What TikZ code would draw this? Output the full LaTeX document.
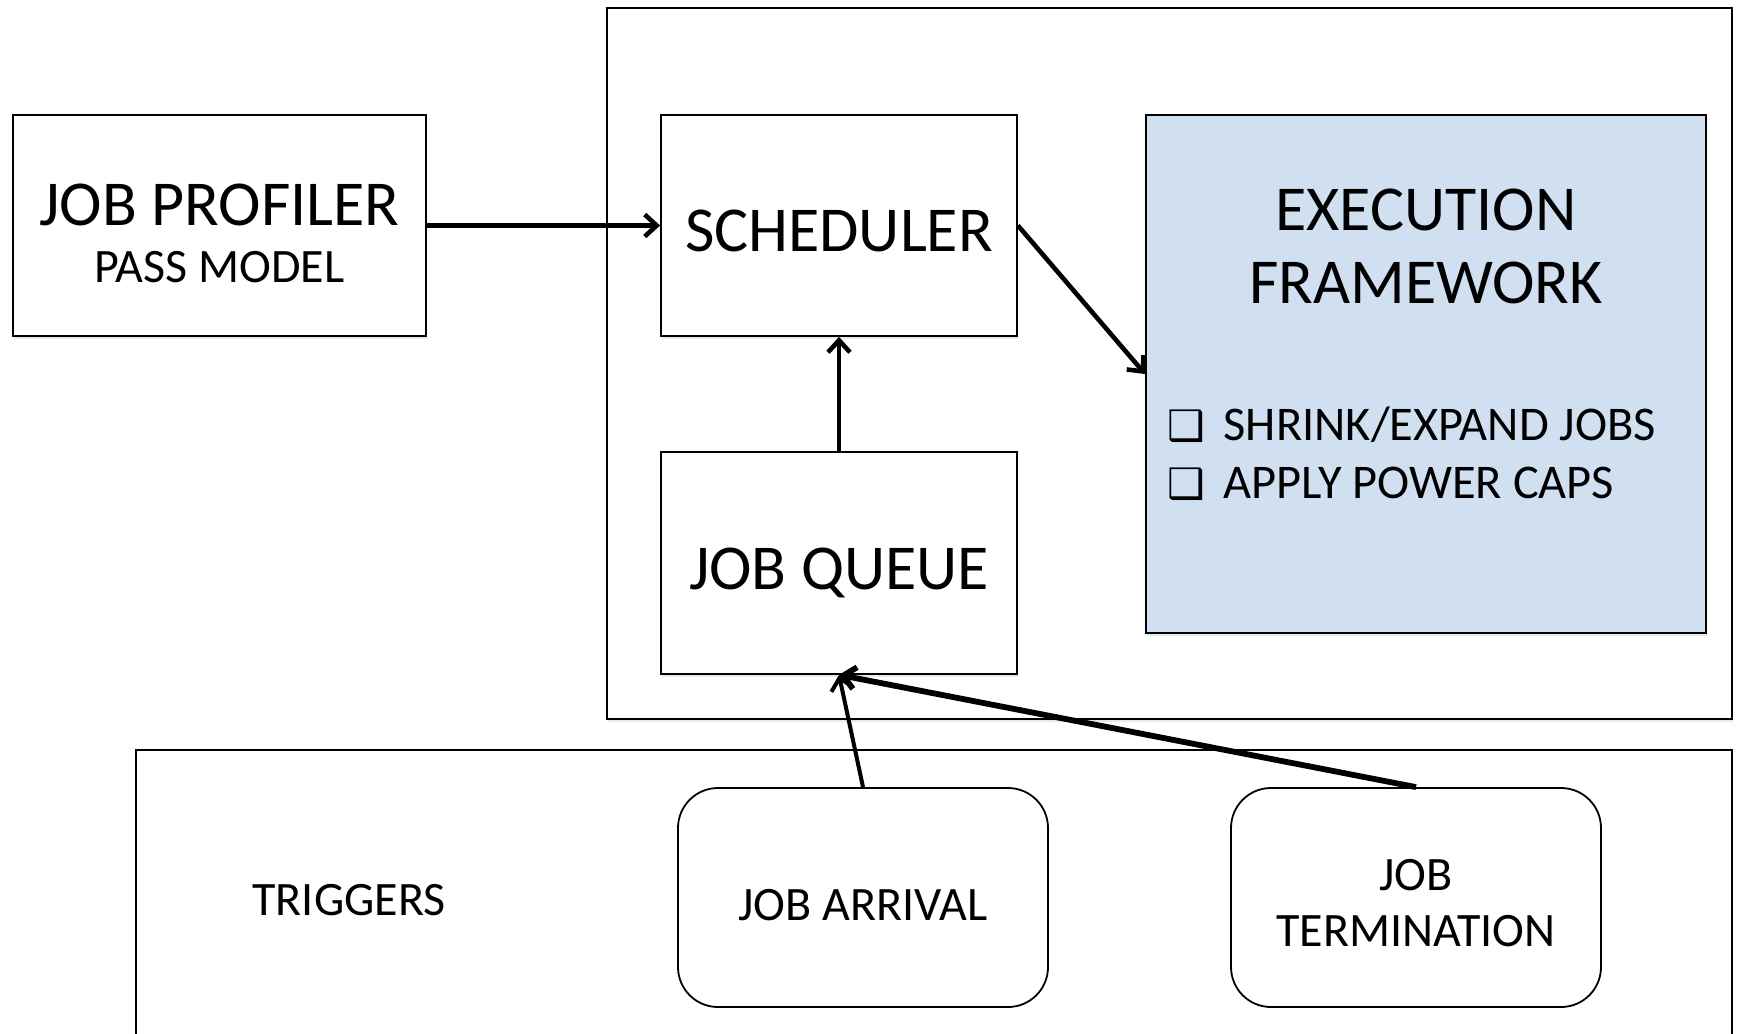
\documentclass[tikz,border=0pt]{standalone}
\usepackage{fontspec}
\setmainfont{Carlito}
\newfontfamily\dingfont{DejaVu Sans}
\usetikzlibrary{arrows.meta,shadows}

\begin{document}
\begin{tikzpicture}[x=0.5pt, y=-0.5pt,
    box/.style = {draw, line width=0.9pt, fill=white,
        drop shadow={opacity=0.18, shadow xshift=0.6pt, shadow yshift=-1.6pt}},
    big/.style = {font=\fontsize{32}{36}\selectfont},
    small/.style = {font=\fontsize{24}{28}\selectfont},
    trig/.style = {draw, line width=0.9pt, rounded corners=20pt,
        minimum width=185pt, minimum height=109.5pt},
    flow/.style = {line width=2.3pt, -{Straight Barb[length=6pt, width=11pt]}}]
    \useasboundingbox (0,0) rectangle (1739,1033);

    % containers
    \node[box, minimum width=562.5pt, minimum height=355.5pt] (system) at (1169.5,363.5) {};
    \node[box, minimum width=798pt, minimum height=160pt] (trigbox) at (934,910) {};

    % blocks
    \node[box, minimum width=206.5pt, minimum height=110.5pt] (profiler) at (219.5,225.5) {};
    \node[big] (proftitle) at (219.5,205) {JOB PROFILER};
    \node[small] (profmodel) at (219.5,267) {PASS MODEL};
    \node[box, minimum width=178pt, minimum height=110.5pt] (scheduler) at (839,225.5) {};
    \node[big] (schedtitle) at (839,231) {SCHEDULER};
    \node[box, minimum width=178pt, minimum height=111pt] (queue) at (839,563) {};
    \node[big] (queuetitle) at (839,573) {JOB QUEUE};
    \node[box, fill={rgb,255:red,208; green,224; blue,241}, minimum width=280pt, minimum height=259pt] (execution) at (1426,374) {};
    \node[font=\fontsize{32}{36.5}\selectfont, align=center] (exectitle) at (1426,246) {EXECUTION\\FRAMEWORK};
    \node[anchor=west, font=\fontsize{24.2}{28}\selectfont] (shrink) at (1160,425) {{\dingfont\fontsize{21}{24}\selectfont ❑}\, SHRINK/EXPAND JOBS};
    \node[anchor=west, font=\fontsize{24.2}{28}\selectfont] (caps) at (1160,484) {{\dingfont\fontsize{21}{24}\selectfont ❑}\, APPLY POWER CAPS};

    % triggers
    \node[small] (triggers) at (349,900) {TRIGGERS};
    \node[trig] (arrival) at (863,897.5) {};
    \node[small] (arrivaltext) at (863,905) {JOB ARRIVAL};
    \node[trig] (termination) at (1416,897.5) {};
    \node[small, align=center] (termtext) at (1416,903) {JOB\\TERMINATION};

    % connectors
    \draw[flow] (profiler) -- (scheduler);
    \draw[flow] (scheduler.east) -- (execution.west);
    \draw[flow] (queue) -- (scheduler);
    \draw[flow, line width=2pt] (arrival.north) -- (queue.south);
    \draw[flow, line width=2.9pt] (termination.north) -- (queue.south);
\end{tikzpicture}
\end{document}
